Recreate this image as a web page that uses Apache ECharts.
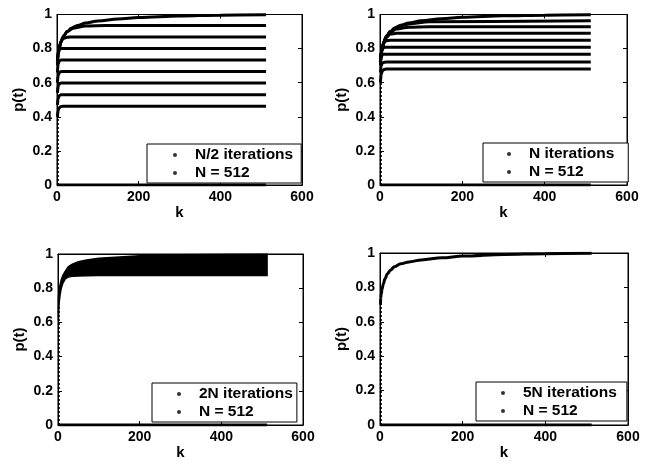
<!DOCTYPE html>
<html><head><meta charset="utf-8">
<script src="https://cdn.jsdelivr.net/npm/echarts@6/dist/echarts.min.js"></script>
<style>html,body{margin:0;padding:0;background:#fff}#c{width:650px;height:464px}</style>
</head><body><div id="c"></div>
<script>
// ---- data ----
const X_TICKS = [0, 200, 400, 600];
const Y_TICKS = [0, 0.2, 0.4, 0.6, 0.8, 1];
const PANEL_LABELS = ['N/2 iterations', 'N iterations', '2N iterations', '5N iterations'];
const SIZE_LABEL = 'N = 512';

// k samples for the rising envelope curves
const K_TOP = [1, 2, 3, 5, 8, 12, 18, 25, 35, 50, 70, 100, 150, 200, 300, 400, 512];
const P1_TOP = [0.72, 0.76, 0.78, 0.80, 0.83, 0.855, 0.88, 0.90, 0.92, 0.935, 0.95, 0.962, 0.973, 0.982, 0.991, 0.996, 0.998];
const P2_TOP = [0.72, 0.76, 0.78, 0.80, 0.83, 0.855, 0.88, 0.90, 0.92, 0.937, 0.95, 0.963, 0.975, 0.984, 0.992, 0.996, 0.998];
const P3_UPPER = [0.74, 0.77, 0.79, 0.82, 0.85, 0.875, 0.90, 0.925, 0.94, 0.955, 0.965, 0.975, 0.983, 0.99, 0.995, 0.997, 0.998];
const P3_LOWER = [0.62, 0.68, 0.72, 0.76, 0.80, 0.83, 0.855, 0.865, 0.87, 0.872, 0.873, 0.874, 0.875, 0.875, 0.875, 0.875, 0.875];
const P4_TOP = [0.70, 0.74, 0.76, 0.79, 0.82, 0.85, 0.88, 0.90, 0.92, 0.937, 0.948, 0.96, 0.972, 0.982, 0.992, 0.996, 0.998];

// k samples for the plateau curves
const K_PLAT = [1, 3, 6, 10, 15, 25, 40, 70, 120, 512];
const P1_PLATEAUS = [
  [0.72, 0.78, 0.81, 0.84, 0.87, 0.90, 0.92, 0.932, 0.935, 0.935],
  [0.72, 0.78, 0.81, 0.84, 0.86, 0.867, 0.868, 0.868, 0.868, 0.868],
  [0.70, 0.77, 0.795, 0.80, 0.80, 0.80, 0.80, 0.80, 0.80, 0.80],
  [0.66, 0.71, 0.728, 0.733, 0.733, 0.733, 0.733, 0.733, 0.733, 0.733],
  [0.60, 0.645, 0.66, 0.665, 0.665, 0.665, 0.665, 0.665, 0.665, 0.665],
  [0.54, 0.58, 0.595, 0.598, 0.598, 0.598, 0.598, 0.598, 0.598, 0.598],
  [0.47, 0.51, 0.525, 0.53, 0.53, 0.53, 0.53, 0.53, 0.53, 0.53],
  [0.40, 0.44, 0.455, 0.46, 0.462, 0.462, 0.462, 0.462, 0.462, 0.462]
];
const P2_PLATEAUS = [
  [0.72, 0.78, 0.81, 0.84, 0.87, 0.90, 0.925, 0.945, 0.958, 0.964],
  [0.72, 0.78, 0.81, 0.84, 0.87, 0.895, 0.915, 0.925, 0.928, 0.928],
  [0.72, 0.78, 0.81, 0.84, 0.865, 0.885, 0.89, 0.89, 0.89, 0.89],
  [0.72, 0.78, 0.81, 0.835, 0.847, 0.849, 0.849, 0.849, 0.849, 0.849],
  [0.72, 0.77, 0.80, 0.807, 0.808, 0.808, 0.808, 0.808, 0.808, 0.808],
  [0.70, 0.75, 0.765, 0.767, 0.767, 0.767, 0.767, 0.767, 0.767, 0.767],
  [0.66, 0.70, 0.715, 0.72, 0.721, 0.721, 0.721, 0.721, 0.721, 0.721],
  [0.60, 0.65, 0.67, 0.678, 0.68, 0.68, 0.68, 0.68, 0.68, 0.68]
];

// points lying on p(t) = 0 and the early scatter at k ~ 2
const K_ZERO = [1, 512];
const ZERO = [0, 0];
const K_STEM = [2, 2];
const STEMS = [[0, 0.42], [0, 0.62], [0, 0.70], [0, 0.75]];

// ---- layout ----
const GRIDS = [
  {left: 57, top: 14.5, width: 245, height: 170.5},
  {left: 380, top: 14.5, width: 247, height: 170.5},
  {left: 58, top: 254, width: 245, height: 171},
  {left: 380, top: 253, width: 248, height: 172}
];
const LEGENDS = [
  {left: 147, top: 144, padding: [3, 8, 2, 26]},
  {left: 483, top: 143, padding: [3, 14, 2, 24]},
  {left: 152, top: 383, padding: [3, 4, 2, 25]},
  {left: 476, top: 382, padding: [3, 10, 2, 25]}
];

const FONT = 'Liberation Sans';
const pairs = (ks, vs) => ks.map((k, i) => [k, vs[i]]);

const grid = [], xAxis = [], yAxis = [], series = [], legend = [];

GRIDS.forEach((g, p) => {
  grid.push(Object.assign({show: true, borderColor: '#000', borderWidth: 1, backgroundColor: '#fff'}, g));
  const xi = xAxis.length, yi = yAxis.length;
  const common = {
    gridIndex: p, min: 0, axisLine: {show: true, onZero: false, lineStyle: {color: '#000', width: 1}},
    axisTick: {show: true, inside: true, length: 4, lineStyle: {color: '#000'}},
    splitLine: {show: false}
  };
  xAxis.push(Object.assign({}, common, {
    type: 'value', position: 'bottom', max: X_TICKS[X_TICKS.length - 1], interval: X_TICKS[1] - X_TICKS[0],
    name: 'k', nameLocation: 'middle', nameGap: 20,
    nameTextStyle: {fontFamily: FONT, fontWeight: 'bold', fontSize: 15, color: '#000'},
    axisLabel: {margin: 5, fontFamily: FONT, fontWeight: 'bold', fontSize: 14, color: '#000'}
  }));
  xAxis.push(Object.assign({}, common, {
    type: 'value', position: 'top', max: X_TICKS[X_TICKS.length - 1], interval: X_TICKS[1] - X_TICKS[0],
    axisLabel: {show: false}
  }));
  yAxis.push(Object.assign({}, common, {
    type: 'value', position: 'left', max: Y_TICKS[Y_TICKS.length - 1], interval: Y_TICKS[1] - Y_TICKS[0],
    name: 'p(t)', nameLocation: 'middle', nameGap: 31, nameRotate: 90,
    nameTextStyle: {fontFamily: FONT, fontWeight: 'bold', fontSize: 15, color: '#000'},
    axisLabel: {margin: 5, fontFamily: FONT, fontWeight: 'bold', fontSize: 14, color: '#000'}
  }));
  yAxis.push(Object.assign({}, common, {
    type: 'value', position: 'right', max: Y_TICKS[Y_TICKS.length - 1], interval: Y_TICKS[1] - Y_TICKS[0],
    axisLabel: {show: false}
  }));

  const line = (data, w, extra) => Object.assign({
    type: 'line', xAxisIndex: xi, yAxisIndex: yi, data: data, symbol: 'none', silent: true,
    smooth: 0.35, smoothMonotone: 'x', clip: true,
    lineStyle: {color: '#000', width: w}, z: 3
  }, extra || {});

  if (p === 0) {
    series.push(line(pairs(K_TOP, P1_TOP), 3));
    P1_PLATEAUS.forEach(v => series.push(line(pairs(K_PLAT, v), 3)));
  } else if (p === 1) {
    series.push(line(pairs(K_TOP, P2_TOP), 3));
    P2_PLATEAUS.forEach(v => series.push(line(pairs(K_PLAT, v), 3)));
  } else if (p === 2) {
    // dense band between the lower and upper edges, placed through the axes' scales
    series.push({
      type: 'custom', xAxisIndex: xi, yAxisIndex: yi, silent: true, z: 3,
      data: K_TOP.map((k, i) => [k, P3_LOWER[i], P3_UPPER[i]]),
      renderItem: (params, api) => {
        if (params.dataIndex !== 0) return null;
        const n = K_TOP.length, pts = [];
        for (let i = 0; i < n; i++) pts.push(api.coord([K_TOP[i], P3_UPPER[i]]));
        for (let i = n - 1; i >= 0; i--) pts.push(api.coord([K_TOP[i], P3_LOWER[i]]));
        return {type: 'polygon', shape: {points: pts, smooth: 0}, style: {fill: '#000', stroke: '#000', lineWidth: 1.5}};
      }
    });
  } else {
    series.push(line(pairs(K_TOP, P4_TOP), 3));
  }

  // zero line and early scatter
  series.push(line(pairs(K_ZERO, ZERO), 3, {smooth: false, z: 5}));
  series.push(line(pairs(K_STEM, STEMS[p]), 2, {smooth: false, z: 5, lineStyle: {color: '#000', width: 2, type: 'dotted'}}));

  // legend entries (dot markers)
  [PANEL_LABELS[p], SIZE_LABEL].forEach(name => series.push({
    type: 'scatter', name: name, xAxisIndex: xi, yAxisIndex: yi, data: [],
    symbol: 'circle', symbolSize: 3, itemStyle: {color: '#000'}
  }));
  legend.push(Object.assign({
    orient: 'vertical', data: [PANEL_LABELS[p], SIZE_LABEL], icon: 'circle',
    itemWidth: 30, itemHeight: 4, itemGap: 2, selectedMode: false,
    backgroundColor: '#fff', borderColor: '#000', borderWidth: 1, borderRadius: 0,
    textStyle: {fontFamily: FONT, fontWeight: 'bold', fontSize: 15.5, color: '#000', padding: [0, 0, 0, 0]}
  }, LEGENDS[p]));
});

const chart = echarts.init(document.getElementById('c'), null, {renderer: 'canvas'});
chart.setOption({
  backgroundColor: '#fff', animation: false,
  grid: grid, xAxis: xAxis, yAxis: yAxis, series: series, legend: legend
});
</script></body></html>
